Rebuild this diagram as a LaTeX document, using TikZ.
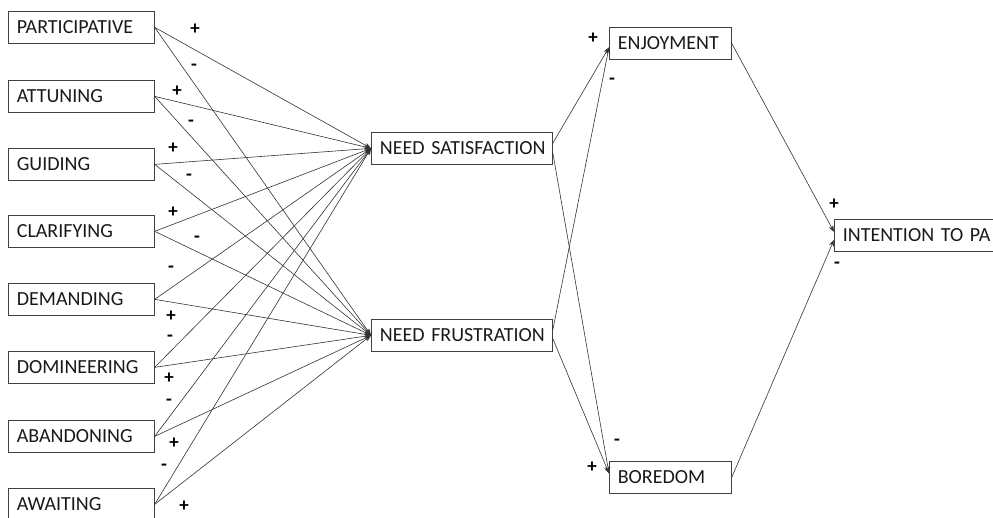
\documentclass[tikz,border=0pt]{standalone}
\usepackage{fontspec}
\setmainfont{Carlito}
\usetikzlibrary{arrows.meta}
\begin{document}
\begin{tikzpicture}[x=1pt,y=-1pt,
  box/.style={draw=black!75,line width=0.7pt,rectangle,minimum height=32pt,inner xsep=8.5pt,inner ysep=0pt,align=left,anchor=north west,font=\fontsize{20}{22}\selectfont,text=black!90},
  lbox/.style={box,text width=129pt},
  link/.style={draw=black!80,line width=0.6pt,-{Stealth[length=6.5pt,width=5pt]}},
  sg/.style={font=\bfseries\fontsize{19}{19}\selectfont,inner sep=0pt}]
\useasboundingbox (0,0) rectangle (993,517);
% left boxes
\node[lbox] (p)  at (8,11)  {PARTICIPATIVE};
\node[lbox] (a)  at (8,80)  {ATTUNING};
\node[lbox] (g)  at (8,148) {GUIDING};
\node[lbox] (c)  at (8,215) {CLARIFYING};
\node[lbox] (d)  at (8,283) {DEMANDING};
\node[lbox] (dm) at (8,351) {DOMINEERING};
\node[lbox] (ab) at (8,420) {ABANDONING};
\node[lbox] (aw) at (8,488) {AWAITING};
% mediators
\node[box,text width=164pt] (ns) at (371,132) {\mbox{NEED SATISFACTION}};
\node[box,text width=164pt] (nf) at (371,319) {\mbox{NEED FRUSTRATION}};
% outcomes
\node[box,text width=105pt] (en) at (609,27)  {ENJOYMENT};
\node[box,text width=105pt] (bo) at (609,461) {BOREDOM};
\node[box,text width=150pt] (it) at (834,219) {\mbox{INTENTION TO PA}};
% left links
\foreach \s in {p,a,g,c,d,dm,ab,aw}{
  \draw[link] (\s.east) -- (ns.west);
  \draw[link] (\s.east) -- (nf.west);
}
% mediator links
\coordinate (enin) at ([yshift=-4pt]en.west);
\coordinate (boin) at ([yshift=4pt]bo.west);
\draw[link] ([yshift=5pt]ns.east) -- (enin);
\draw[link] ([yshift=-4pt]ns.east) -- (boin);
\draw[link] ([yshift=5pt]nf.east) -- (enin);
\draw[link] ([yshift=-3pt]nf.east) -- (boin);
% outcome links
\draw[link] (en.east) -- ([yshift=3.5pt]it.west);
\draw[link] (bo.east) -- ([yshift=-4.5pt]it.west);
% signs
\node[sg] (s1) at (195,29) {+};  \node[sg] (s2) at (194,67) {-};
\node[sg] (s3) at (177,91) {+};  \node[sg] (s4) at (191,123) {-};
\node[sg] (s5) at (173,148) {+}; \node[sg] (s6) at (189,177) {-};
\node[sg] (s7) at (173,212) {+}; \node[sg] (s8) at (197,239) {-};
\node[sg] (s9) at (171,269) {-}; \node[sg] (s10) at (171,316) {+};
\node[sg] (s11) at (170,338) {-}; \node[sg] (s12) at (169,378) {+};
\node[sg] (s13) at (169,402) {-}; \node[sg] (s14) at (174,443) {+};
\node[sg] (s15) at (164,467) {-}; \node[sg] (s16) at (184,506) {+};
\node[sg] (s17) at (593,38) {+};  \node[sg] (s18) at (612,81) {-};
\node[sg] (s19) at (617,442) {-}; \node[sg] (s20) at (592,467) {+};
\node[sg] (s21) at (834,204) {+}; \node[sg] (s22) at (837,265) {-};
\end{tikzpicture}
\end{document}
